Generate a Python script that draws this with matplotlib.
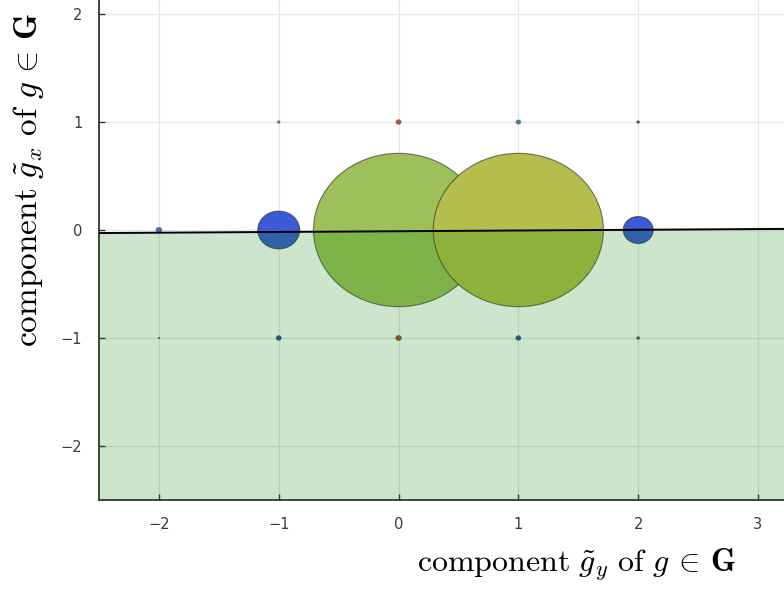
import matplotlib
matplotlib.use("Agg")
import matplotlib.pyplot as plt
from matplotlib.patches import Ellipse

plt.rcParams['mathtext.fontset'] = 'cm'

# lattice points (x = g_y component, y = g_x component)
pt_x = [-2, -1, 0, 1, 2, -1, 0, 1, 2, -2, -1, 0, 1, 2]
pt_y = [0, 0, 0, 0, 0, 1, 1, 1, 1, -1, -1, -1, -1, -1]
pt_r = [0.025, 0.175, 0.71, 0.71, 0.125, 0.012, 0.022, 0.02, 0.012, 0.008, 0.022, 0.024, 0.022, 0.014]
pt_c = ['#3f6fb8', '#3c5bd6', '#9dc05a', '#b5bd4c', '#3c5bd6',
        '#c0503a', '#c0503a', '#3a82a8', '#3a5a3a',
        '#555555', '#34509a', '#b04a2a', '#34509a', '#4a7a3a']

# boundary line
line_x = [-2.5, 3.3]
line_y = [-0.028, 0.011]

xticks = [-2, -1, 0, 1, 2, 3]
yticks = [-2, -1, 0, 1, 2]

fig = plt.figure(figsize=(7.84, 5.90), dpi=100)
ax = fig.add_axes([99/784, 90/590, 685/784, 500/590])
ax.set_xlim(-2.5, 3.217)
ax.set_ylim(-2.5, 2.13)

ax.set_xticks(xticks)
ax.set_yticks(yticks)
ax.grid(True, color='#e6e6e6', linewidth=0.9, zorder=0)
ax.set_axisbelow(True)
ax.tick_params(direction='in', length=4, width=1.0, colors='#333333',
               labelcolor='#3a3a3a', labelsize=10.5, pad=12)
for s in ['top', 'right']:
    ax.spines[s].set_visible(False)
for s in ['left', 'bottom']:
    ax.spines[s].set_color('#333333')
    ax.spines[s].set_linewidth(1.3)

for x, y, r, c in zip(pt_x, pt_y, pt_r, pt_c):
    ax.add_patch(Ellipse((x, y), 2 * r, 2 * r, facecolor=c,
                         edgecolor=(0.15, 0.15, 0.15, 0.6), linewidth=0.8 if r > 0.05 else 0.3,
                         zorder=2))

ax.fill_between(line_x, line_y, -2.5, color='green', alpha=0.2, linewidth=0, zorder=3)
ax.plot(line_x, line_y, color='black', linewidth=1.4, zorder=4)

fig.text(576/784, 1 - 565/590, r'$\mathrm{component}\ \tilde{g}_y\ \mathrm{of}\ g\,\in\,\mathbf{G}$',
         ha='center', va='center', fontsize=23)
fig.text(29/784, 1 - 180/590, r'$\mathrm{component}\ \tilde{g}_x\ \mathrm{of}\ g\,\in\,\mathbf{G}$',
         ha='center', va='center', rotation=90, fontsize=24)

fig.savefig('out.png', dpi=100)
